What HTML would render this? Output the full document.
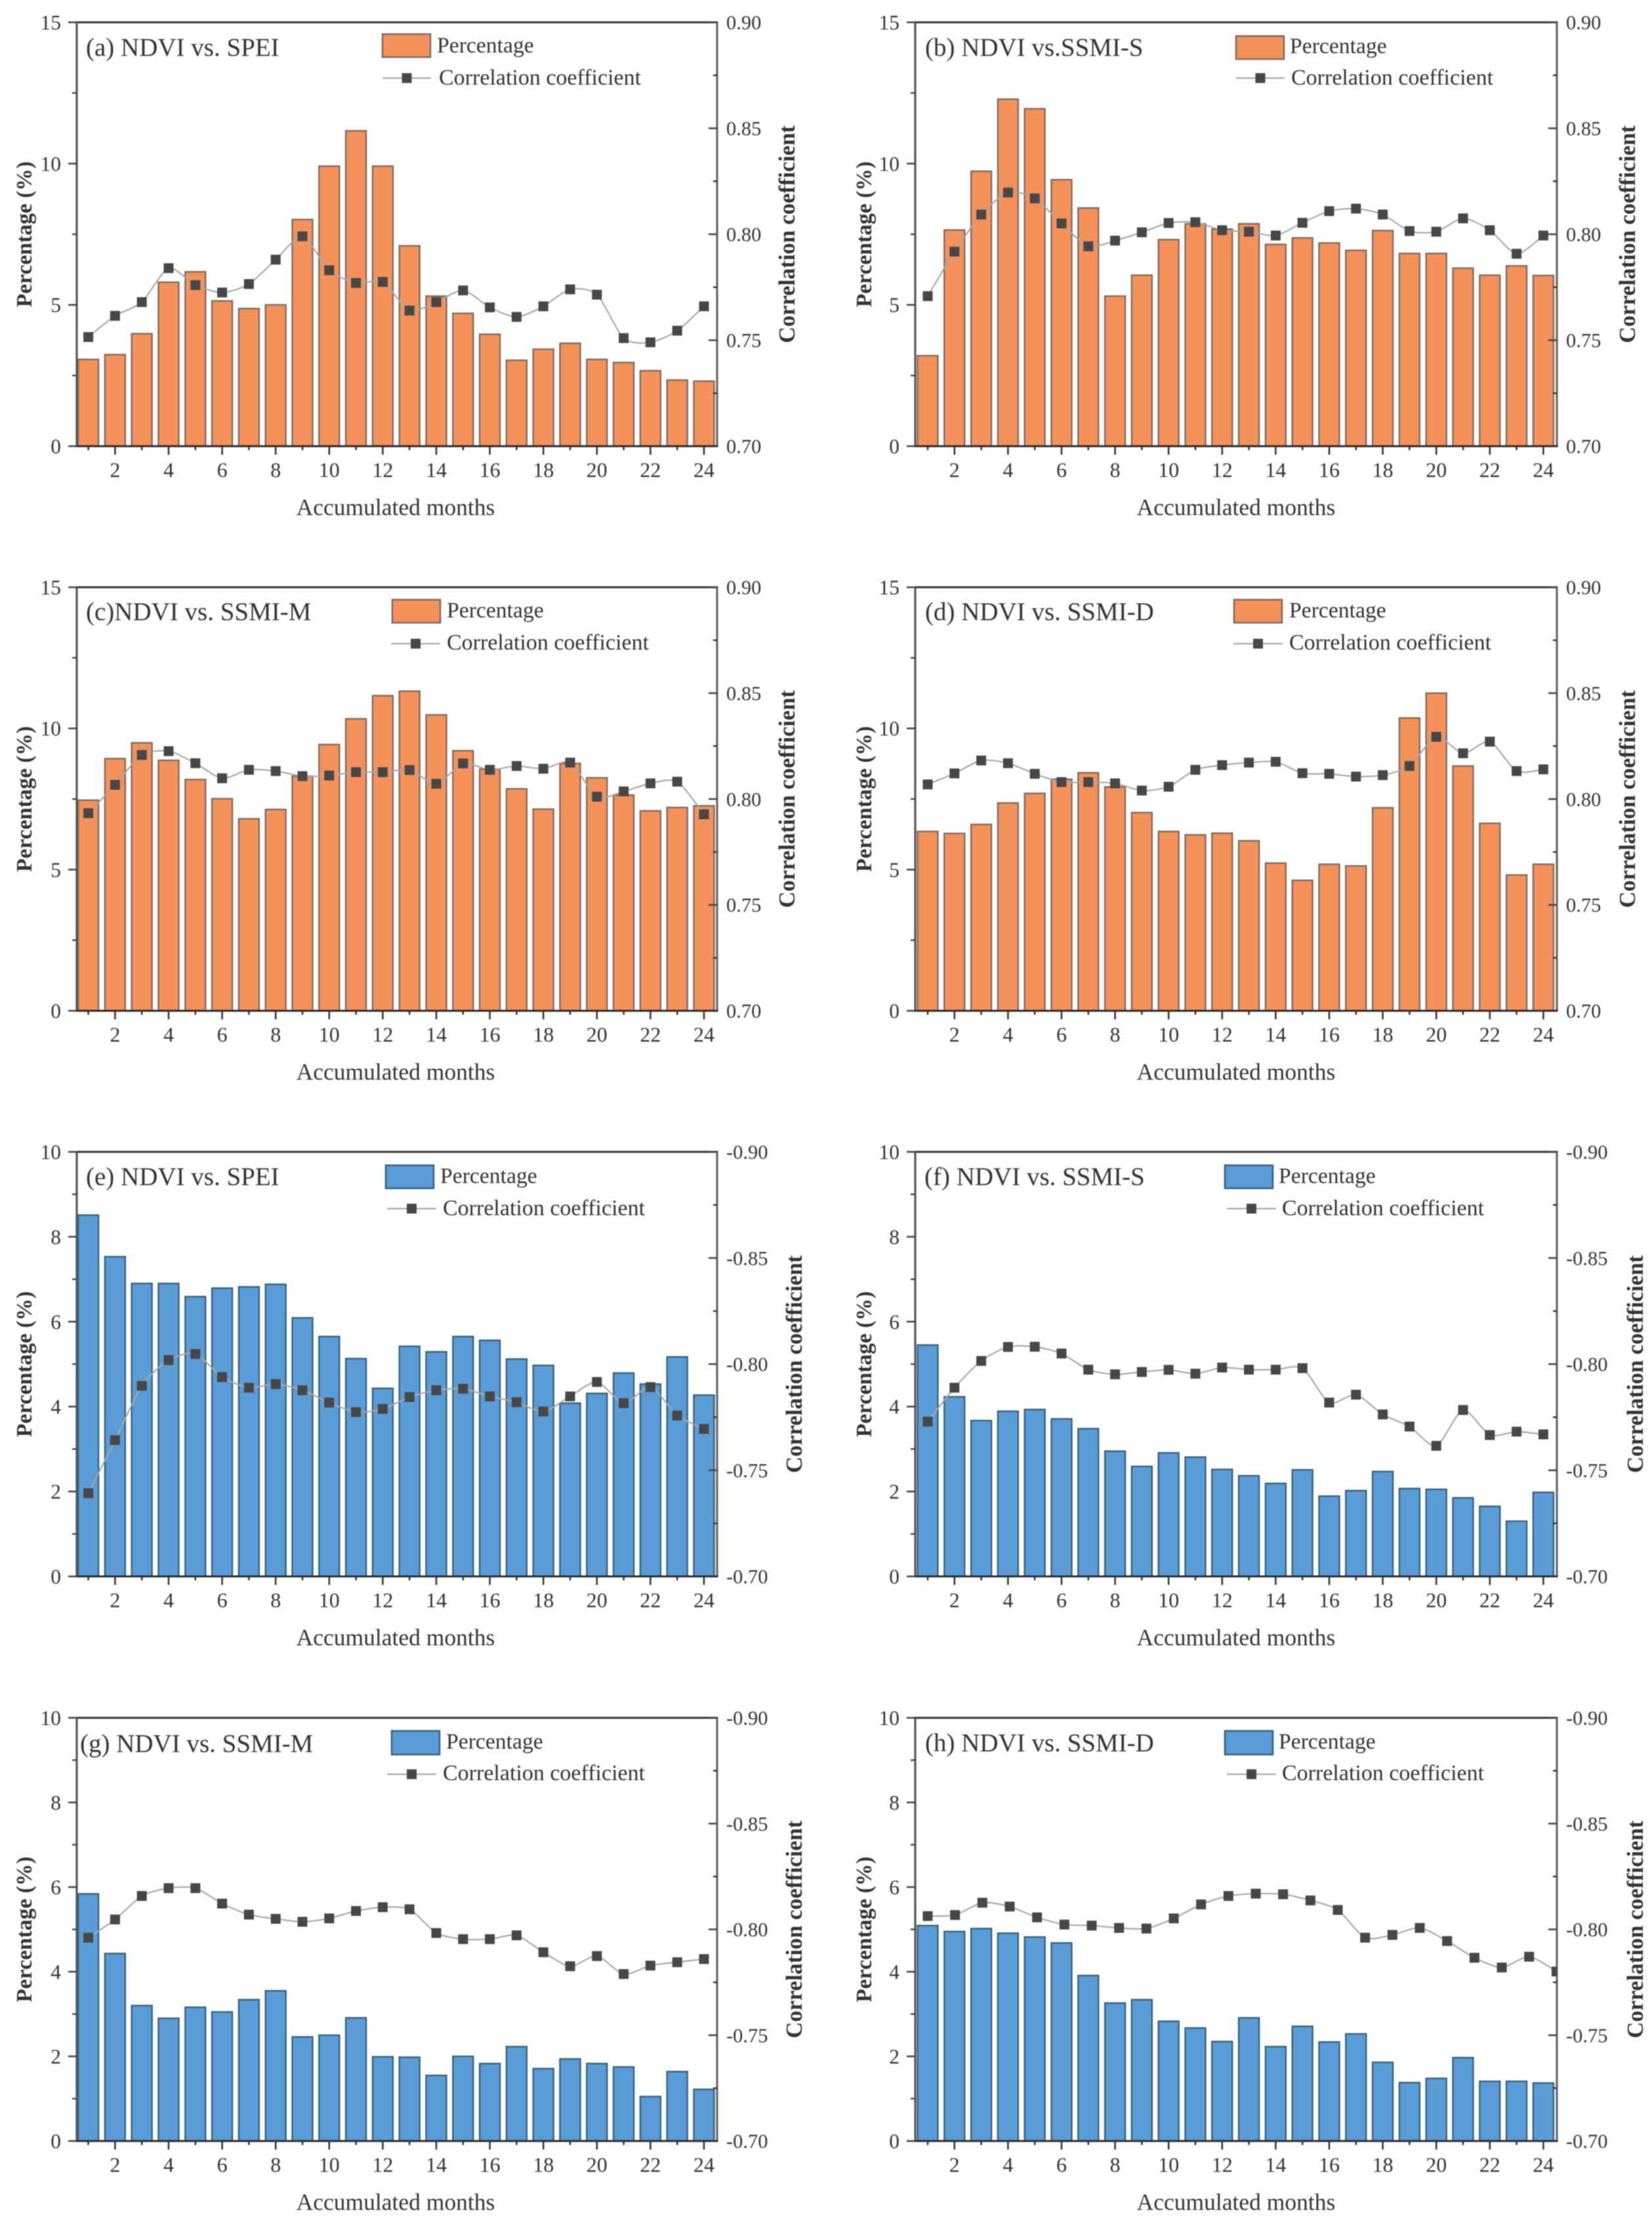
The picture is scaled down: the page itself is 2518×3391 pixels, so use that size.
<!DOCTYPE html>
<html lang="en">
<head>
<meta charset="utf-8">
<title>NDVI correlation with drought indices by accumulated months</title>
<style>
  html, body { margin: 0; padding: 0; background: #fff; }
  #figure { display: block; filter: blur(0.9px); font-family: "Liberation Serif", serif; }
  text { fill: #333; }
</style>
</head>
<body>
<svg id="figure" xmlns="http://www.w3.org/2000/svg" width="2518" height="3391" viewBox="0 0 2518 3391">
  <rect x="0" y="0" width="2518" height="3391" fill="#fff"/>
</svg>
<script>
// ---------- Data ----------
const months = [1,2,3,4,5,6,7,8,9,10,11,12,13,14,15,16,17,18,19,20,21,22,23,24];
const xTickLabels = [2,4,6,8,10,12,14,16,18,20,22,24];
const leftTicksPositive = [0,5,10,15];
const leftTicksNegative = [0,2,4,6,8,10];
const rightTicksPositive = [0.70,0.75,0.80,0.85,0.90];
const rightTicksNegative = [-0.70,-0.75,-0.80,-0.85,-0.90];

const pctA = [3.07,3.24,3.98,5.80,6.17,5.14,4.87,5.00,8.02,9.91,11.16,9.91,7.09,5.31,4.70,3.96,3.04,3.43,3.64,3.07,2.96,2.67,2.34,2.30];
const corrA = [0.7515,0.7615,0.768,0.784,0.776,0.7725,0.7765,0.788,0.799,0.783,0.777,0.7775,0.764,0.768,0.7735,0.7655,0.761,0.766,0.774,0.7715,0.751,0.749,0.7545,0.766];

const pctB = [3.20,7.65,9.73,12.28,11.94,9.43,8.43,5.31,6.05,7.31,7.87,7.68,7.87,7.14,7.37,7.19,6.93,7.63,6.82,6.82,6.30,6.05,6.38,6.04];
const corrB = [0.7708,0.7918,0.8093,0.8197,0.8169,0.8051,0.7943,0.797,0.8009,0.8053,0.8057,0.8019,0.8012,0.7994,0.8054,0.8109,0.8121,0.8093,0.8015,0.8012,0.8075,0.8019,0.7908,0.7994];

const pctC = [7.46,8.93,9.49,8.87,8.19,7.51,6.80,7.13,8.31,9.43,10.34,11.16,11.32,10.48,9.21,8.56,7.86,7.14,8.76,8.25,7.64,7.08,7.20,7.26];
const corrC = [0.7933,0.8067,0.8208,0.8226,0.8169,0.8098,0.8138,0.8132,0.8108,0.8111,0.8127,0.8127,0.8137,0.8072,0.8168,0.8138,0.8156,0.8143,0.8172,0.8011,0.8036,0.8074,0.8082,0.7928];

const pctD = [6.35,6.28,6.60,7.36,7.70,8.20,8.43,7.93,7.02,6.35,6.23,6.29,6.02,5.23,4.62,5.19,5.13,7.19,10.37,11.25,8.67,6.64,4.81,5.19];
const corrD = [0.8069,0.8121,0.8182,0.8169,0.8119,0.808,0.808,0.8074,0.804,0.8058,0.8138,0.816,0.8172,0.8176,0.8122,0.8119,0.8106,0.8113,0.8156,0.8294,0.8216,0.8271,0.8132,0.814];

const pctE = [8.51,7.53,6.90,6.90,6.59,6.79,6.82,6.88,6.09,5.65,5.13,4.43,5.42,5.29,5.65,5.56,5.12,4.97,4.08,4.31,4.79,4.53,5.17,4.27];
const corrE = [-0.7392,-0.7642,-0.7898,-0.8019,-0.8048,-0.7939,-0.7889,-0.7906,-0.7877,-0.7819,-0.7774,-0.7789,-0.7845,-0.7877,-0.7884,-0.7848,-0.7821,-0.7777,-0.7848,-0.7916,-0.7816,-0.7892,-0.7758,-0.7695];

const pctF = [5.45,4.23,3.67,3.89,3.93,3.71,3.48,2.95,2.59,2.91,2.81,2.52,2.37,2.19,2.51,1.89,2.02,2.47,2.07,2.05,1.85,1.65,1.30,1.98];
const corrF = [-0.7729,-0.7889,-0.8015,-0.8081,-0.8082,-0.805,-0.7974,-0.7952,-0.7963,-0.7973,-0.7955,-0.7984,-0.7974,-0.7974,-0.7981,-0.7819,-0.7856,-0.7763,-0.7706,-0.7615,-0.7784,-0.7666,-0.7682,-0.7669];

const pctG = [5.84,4.43,3.20,2.90,3.16,3.05,3.34,3.55,2.46,2.50,2.91,1.99,1.98,1.55,2.00,1.83,2.23,1.71,1.94,1.83,1.75,1.05,1.64,1.22];
const corrG = [-0.7961,-0.8047,-0.8158,-0.8195,-0.8195,-0.8122,-0.807,-0.805,-0.8036,-0.8052,-0.8087,-0.8105,-0.8095,-0.7983,-0.7954,-0.7954,-0.7972,-0.7892,-0.7826,-0.7874,-0.7789,-0.7829,-0.7845,-0.786];

const pctH = [5.09,4.95,5.02,4.91,4.82,4.68,3.91,3.26,3.34,2.83,2.67,2.35,2.91,2.23,2.71,2.34,2.53,1.86,1.38,1.48,1.97,1.41,1.41,1.37];
const corrH = [-0.8063,-0.8068,-0.8126,-0.8108,-0.8057,-0.8023,-0.8018,-0.8007,-0.8004,-0.8052,-0.8118,-0.8158,-0.8169,-0.8166,-0.8137,-0.8092,-0.7961,-0.7974,-0.8007,-0.7945,-0.7866,-0.782,-0.7871,-0.7801];

// ---------- Panel layout (geometry and styling only) ----------
const ORANGE = { fill: '#F5915A', edge: '#7f6b5e' };
const BLUE = { fill: '#5A9CD5', edge: '#35617f' };

const panels = [
  { id:'a', title:'(a) NDVI vs. SPEI',    pct:pctA, corr:corrA, lt:leftTicksPositive, rt:rightTicksPositive, color:ORANGE, left:117,  right:1093, top:34,   bottom:680,  x0:0.569, x1:24.49, titleX:131,  titleY:85,   swX:583,  swY:52,   swH:35, pctTx:666,  pctY:80,   lnX:583,  lnW:74, lnY:119,  corrTx:669,  corrY:129,  ylTx:48,   yrTx:1211, xtX:603 },
  { id:'b', title:'(b) NDVI vs.SSMI-S',   pct:pctB, corr:corrB, lt:leftTicksPositive, rt:rightTicksPositive, color:ORANGE, left:1395, right:2373, top:34,   bottom:680,  x0:0.534, x1:24.505, titleX:1410, titleY:85,   swX:1884, swY:55,   swH:35, pctTx:1966, pctY:81,   lnX:1884, lnW:74, lnY:119,  corrTx:1968, corrY:129,  ylTx:1328, yrTx:2492, xtX:1884 },
  { id:'c', title:'(c)NDVI vs. SSMI-M',   pct:pctC, corr:corrC, lt:leftTicksPositive, rt:rightTicksPositive, color:ORANGE, left:117,  right:1093, top:895,  bottom:1540.5, x0:0.569, x1:24.49, titleX:131,  titleY:945,  swX:598,  swY:914,  swH:35, pctTx:681,  pctY:941,  lnX:596,  lnW:75, lnY:981,  corrTx:681,  corrY:990,  ylTx:48,   yrTx:1211, xtX:603 },
  { id:'d', title:'(d) NDVI vs. SSMI-D',  pct:pctD, corr:corrD, lt:leftTicksPositive, rt:rightTicksPositive, color:ORANGE, left:1395, right:2373, top:895,  bottom:1540.5, x0:0.534, x1:24.505, titleX:1410, titleY:945,  swX:1881, swY:914,  swH:35, pctTx:1965, pctY:941,  lnX:1880, lnW:75, lnY:981,  corrTx:1965, corrY:990,  ylTx:1328, yrTx:2492, xtX:1884 },
  { id:'e', title:'(e) NDVI vs. SPEI',    pct:pctE, corr:corrE, lt:leftTicksNegative, rt:rightTicksNegative, color:BLUE,   left:117,  right:1093, top:1755.5, bottom:2402.5, x0:0.569, x1:24.49, titleX:131,  titleY:1806, swX:588,  swY:1776, swH:35, pctTx:671,  pctY:1803, lnX:590,  lnW:75, lnY:1842, corrTx:675,  corrY:1852, ylTx:48,   yrTx:1222, xtX:603 },
  { id:'f', title:'(f) NDVI vs. SSMI-S',  pct:pctF, corr:corrF, lt:leftTicksNegative, rt:rightTicksNegative, color:BLUE,   left:1395, right:2373, top:1755.5, bottom:2402.5, x0:0.534, x1:24.505, titleX:1409, titleY:1806, swX:1867, swY:1776, swH:35, pctTx:1949, pctY:1803, lnX:1870, lnW:75, lnY:1842, corrTx:1954, corrY:1852, ylTx:1328, yrTx:2504, xtX:1884 },
  { id:'g', title:'(g) NDVI vs. SSMI-M',  pct:pctG, corr:corrG, lt:leftTicksNegative, rt:rightTicksNegative, color:BLUE,   left:117,  right:1093, top:2618, bottom:3263, x0:0.569, x1:24.49, titleX:122,  titleY:2670, swX:597,  swY:2638, swH:36, pctTx:680,  pctY:2665, lnX:590,  lnW:75, lnY:2704, corrTx:675,  corrY:2713, ylTx:48,   yrTx:1222, xtX:603 },
  { id:'h', title:'(h) NDVI vs. SSMI-D',  pct:pctH, corr:corrH, lt:leftTicksNegative, rt:rightTicksNegative, color:BLUE,   left:1395, right:2373, top:2618, bottom:3263, x0:0.534, x1:24.505, titleX:1410, titleY:2669, swX:1867, swY:2638, swH:36, pctTx:1949, pctY:2665, lnX:1870, lnW:75, lnY:2704, corrTx:1954, corrY:2713, ylTx:1328, yrTx:2504, xtX:1884, lineStretch:1.0213 }
];

const NS = 'http://www.w3.org/2000/svg';
const root = document.getElementById('figure');

function make(parent, tag, attrs, content) {
  const node = document.createElementNS(NS, tag);
  for (const k in attrs) node.setAttribute(k, attrs[k]);
  if (content !== undefined) node.textContent = content;
  parent.appendChild(node);
  return node;
}

function smoothPath(pts) {
  let d = 'M' + pts[0][0] + ' ' + pts[0][1];
  for (let i = 0; i < pts.length - 1; i++) {
    const p0 = pts[Math.max(0, i - 1)];
    const p1 = pts[i];
    const p2 = pts[i + 1];
    const p3 = pts[Math.min(pts.length - 1, i + 2)];
    const c1x = p1[0] + (p2[0] - p0[0]) / 8;
    const c1y = p1[1] + (p2[1] - p0[1]) / 8;
    const c2x = p2[0] - (p3[0] - p1[0]) / 8;
    const c2y = p2[1] - (p3[1] - p1[1]) / 8;
    d += ' C' + c1x + ' ' + c1y + ' ' + c2x + ' ' + c2y + ' ' + p2[0] + ' ' + p2[1];
  }
  return d;
}

panels.forEach(function (p) {
  const g = make(root, 'g', {});
  
  

  // Axis functions
  const xScale = m => p.left + (m - p.x0) / (p.x1 - p.x0) * (p.right - p.left);
  const lMin = p.lt[0], lMax = p.lt[p.lt.length - 1];
  const rMin = p.rt[0], rMax = p.rt[p.rt.length - 1];
  const yLeft = v => p.bottom - (v - lMin) / (lMax - lMin) * (p.bottom - p.top);
  const yRight = v => p.bottom - (v - rMin) / (rMax - rMin) * (p.bottom - p.top);
  const stretch = p.lineStretch || 1;
  const xLine = m => xScale(1) + (xScale(m) - xScale(1)) * stretch;

  const clip = make(g, 'clipPath', { id: 'clip-' + p.id });
  make(clip, 'rect', { x: p.left, y: p.top, width: p.right - p.left + 0.5, height: p.bottom - p.top });

  // Bars
  const barGroup = make(g, 'g', { 'clip-path': 'url(#clip-' + p.id + ')' });
  
  
  const barW = 31;
  months.forEach(function (m, i) {
    const top = yLeft(p.pct[i]);
    const bar = make(barGroup, 'rect', {
      x: xScale(m) - barW / 2, y: top, width: barW, height: p.bottom - top,
      fill: p.color.fill, stroke: p.color.edge, 'stroke-width': 2.4
    });
    
    
  });

  // Plot frame
  const frame = make(g, 'g', {});
  
  
  make(frame, 'line', { x1: p.left, x2: p.right + 1.5, y1: p.top, y2: p.top, stroke: '#333', 'stroke-width': 3 });
  make(frame, 'line', { x1: p.left, x2: p.left, y1: p.top, y2: p.bottom + 1.5, stroke: '#555', 'stroke-width': 3.2 });
  make(frame, 'line', { x1: p.right, x2: p.right, y1: p.top, y2: p.bottom + 1.5, stroke: '#666', 'stroke-width': 3.2 });
  make(frame, 'line', { x1: p.left, x2: p.right + 1.5, y1: p.bottom, y2: p.bottom, stroke: '#2c2c2c', 'stroke-width': 3 });

  // X axis ticks and labels
  const xAxis = make(g, 'g', {});
  
  
  months.forEach(function (m) {
    const major = xTickLabels.indexOf(m) >= 0;
    make(xAxis, 'line', { x1: xScale(m), x2: xScale(m), y1: p.bottom, y2: p.bottom + (major ? 13 : 6), stroke: '#333', 'stroke-width': 2.6 });
    if (major) {
      const label = make(xAxis, 'text', { x: xScale(m), y: p.bottom + 47, 'font-size': 32, 'text-anchor': 'middle' }, String(m));
      
      
    }
  });
  const xTitle = make(g, 'text', { x: p.xtX, y: p.bottom + 105, 'font-size': 35.5, 'text-anchor': 'middle' }, 'Accumulated months');
  
  

  // Left axis
  const lAxis = make(g, 'g', {});
  
  
  p.lt.forEach(function (v, i) {
    make(lAxis, 'line', { x1: p.left - 13, x2: p.left, y1: yLeft(v), y2: yLeft(v), stroke: '#444', 'stroke-width': 2.6 });
    const label = make(lAxis, 'text', { x: p.left - 24, y: yLeft(v) + 11, 'font-size': 31.5, 'text-anchor': 'end' }, String(v));
    
    
    if (i < p.lt.length - 1) {
      const mid = (v + p.lt[i + 1]) / 2;
      make(lAxis, 'line', { x1: p.left - 7, x2: p.left, y1: yLeft(mid), y2: yLeft(mid), stroke: '#444', 'stroke-width': 2.4 });
    }
  });
  const yMid = (p.top + p.bottom) / 2;
  const yl = make(g, 'text', {
    x: p.ylTx, y: yMid, 'font-size': 33.6, 'font-weight': 'bold', 'text-anchor': 'middle',
    transform: 'rotate(-90 ' + p.ylTx + ' ' + yMid + ')'
  }, 'Percentage (%)');
  
  

  // Right axis
  const rAxis = make(g, 'g', {});
  
  
  p.rt.forEach(function (v, i) {
    if (i > 0) make(rAxis, 'line', { x1: p.right - 13, x2: p.right, y1: yRight(v), y2: yRight(v), stroke: '#444', 'stroke-width': 2.6 });
    const label = make(rAxis, 'text', { x: p.right + 14, y: yRight(v) + 10.5, 'font-size': 30.5, 'text-anchor': 'start' }, v.toFixed(2));
    
    
    if (i < p.rt.length - 1) {
      const mid = (v + p.rt[i + 1]) / 2;
      make(rAxis, 'line', { x1: p.right - 6, x2: p.right, y1: yRight(mid), y2: yRight(mid), stroke: '#333', 'stroke-width': 2.4 });
    }
  });
  const yr = make(g, 'text', {
    x: p.yrTx, y: yMid, 'font-size': 34.5, 'font-weight': 'bold', 'text-anchor': 'middle',
    transform: 'rotate(-90 ' + p.yrTx + ' ' + yMid + ')'
  }, 'Correlation coefficient');
  
  

  // Correlation line and markers
  const lineGroup = make(g, 'g', { 'clip-path': 'url(#clip-' + p.id + ')' });
  
  
  const pts = months.map((m, i) => [xLine(m), yRight(p.corr[i])]);
  const path = make(lineGroup, 'path', { d: smoothPath(pts), fill: 'none', stroke: '#a8a8a8', 'stroke-width': 2.2 });
  
  
  pts.forEach(function (pt, i) {
    const mark = make(lineGroup, 'rect', { x: pt[0] - 7.5, y: pt[1] - 7.5, width: 15, height: 15, fill: '#474747' });
    
    
  });

  // Panel title
  const title = make(g, 'text', { x: p.titleX, y: p.titleY, 'font-size': 39 }, p.title);
  
  

  // Legend
  const legend = make(g, 'g', {});
  
  
  const swatch = make(legend, 'rect', { x: p.swX, y: p.swY, width: 73, height: p.swH, fill: p.color.fill, stroke: p.color.edge, 'stroke-width': 2.6 });
  
  
  const pctLabel = make(legend, 'text', { x: p.pctTx, y: p.pctY, 'font-size': 33.7 }, 'Percentage');
  
  
  const legLine = make(legend, 'line', { x1: p.lnX, x2: p.lnX + p.lnW, y1: p.lnY, y2: p.lnY, stroke: '#a8a8a8', 'stroke-width': 2.2 });
  
  
  const legMark = make(legend, 'rect', { x: p.lnX + p.lnW / 2 - 7.5, y: p.lnY - 7.5, width: 15, height: 15, fill: '#474747' });
  
  
  const corrLabel = make(legend, 'text', { x: p.corrTx, y: p.corrY, 'font-size': 34 }, 'Correlation coefficient');
  
  
});
</script>
</body>
</html>
